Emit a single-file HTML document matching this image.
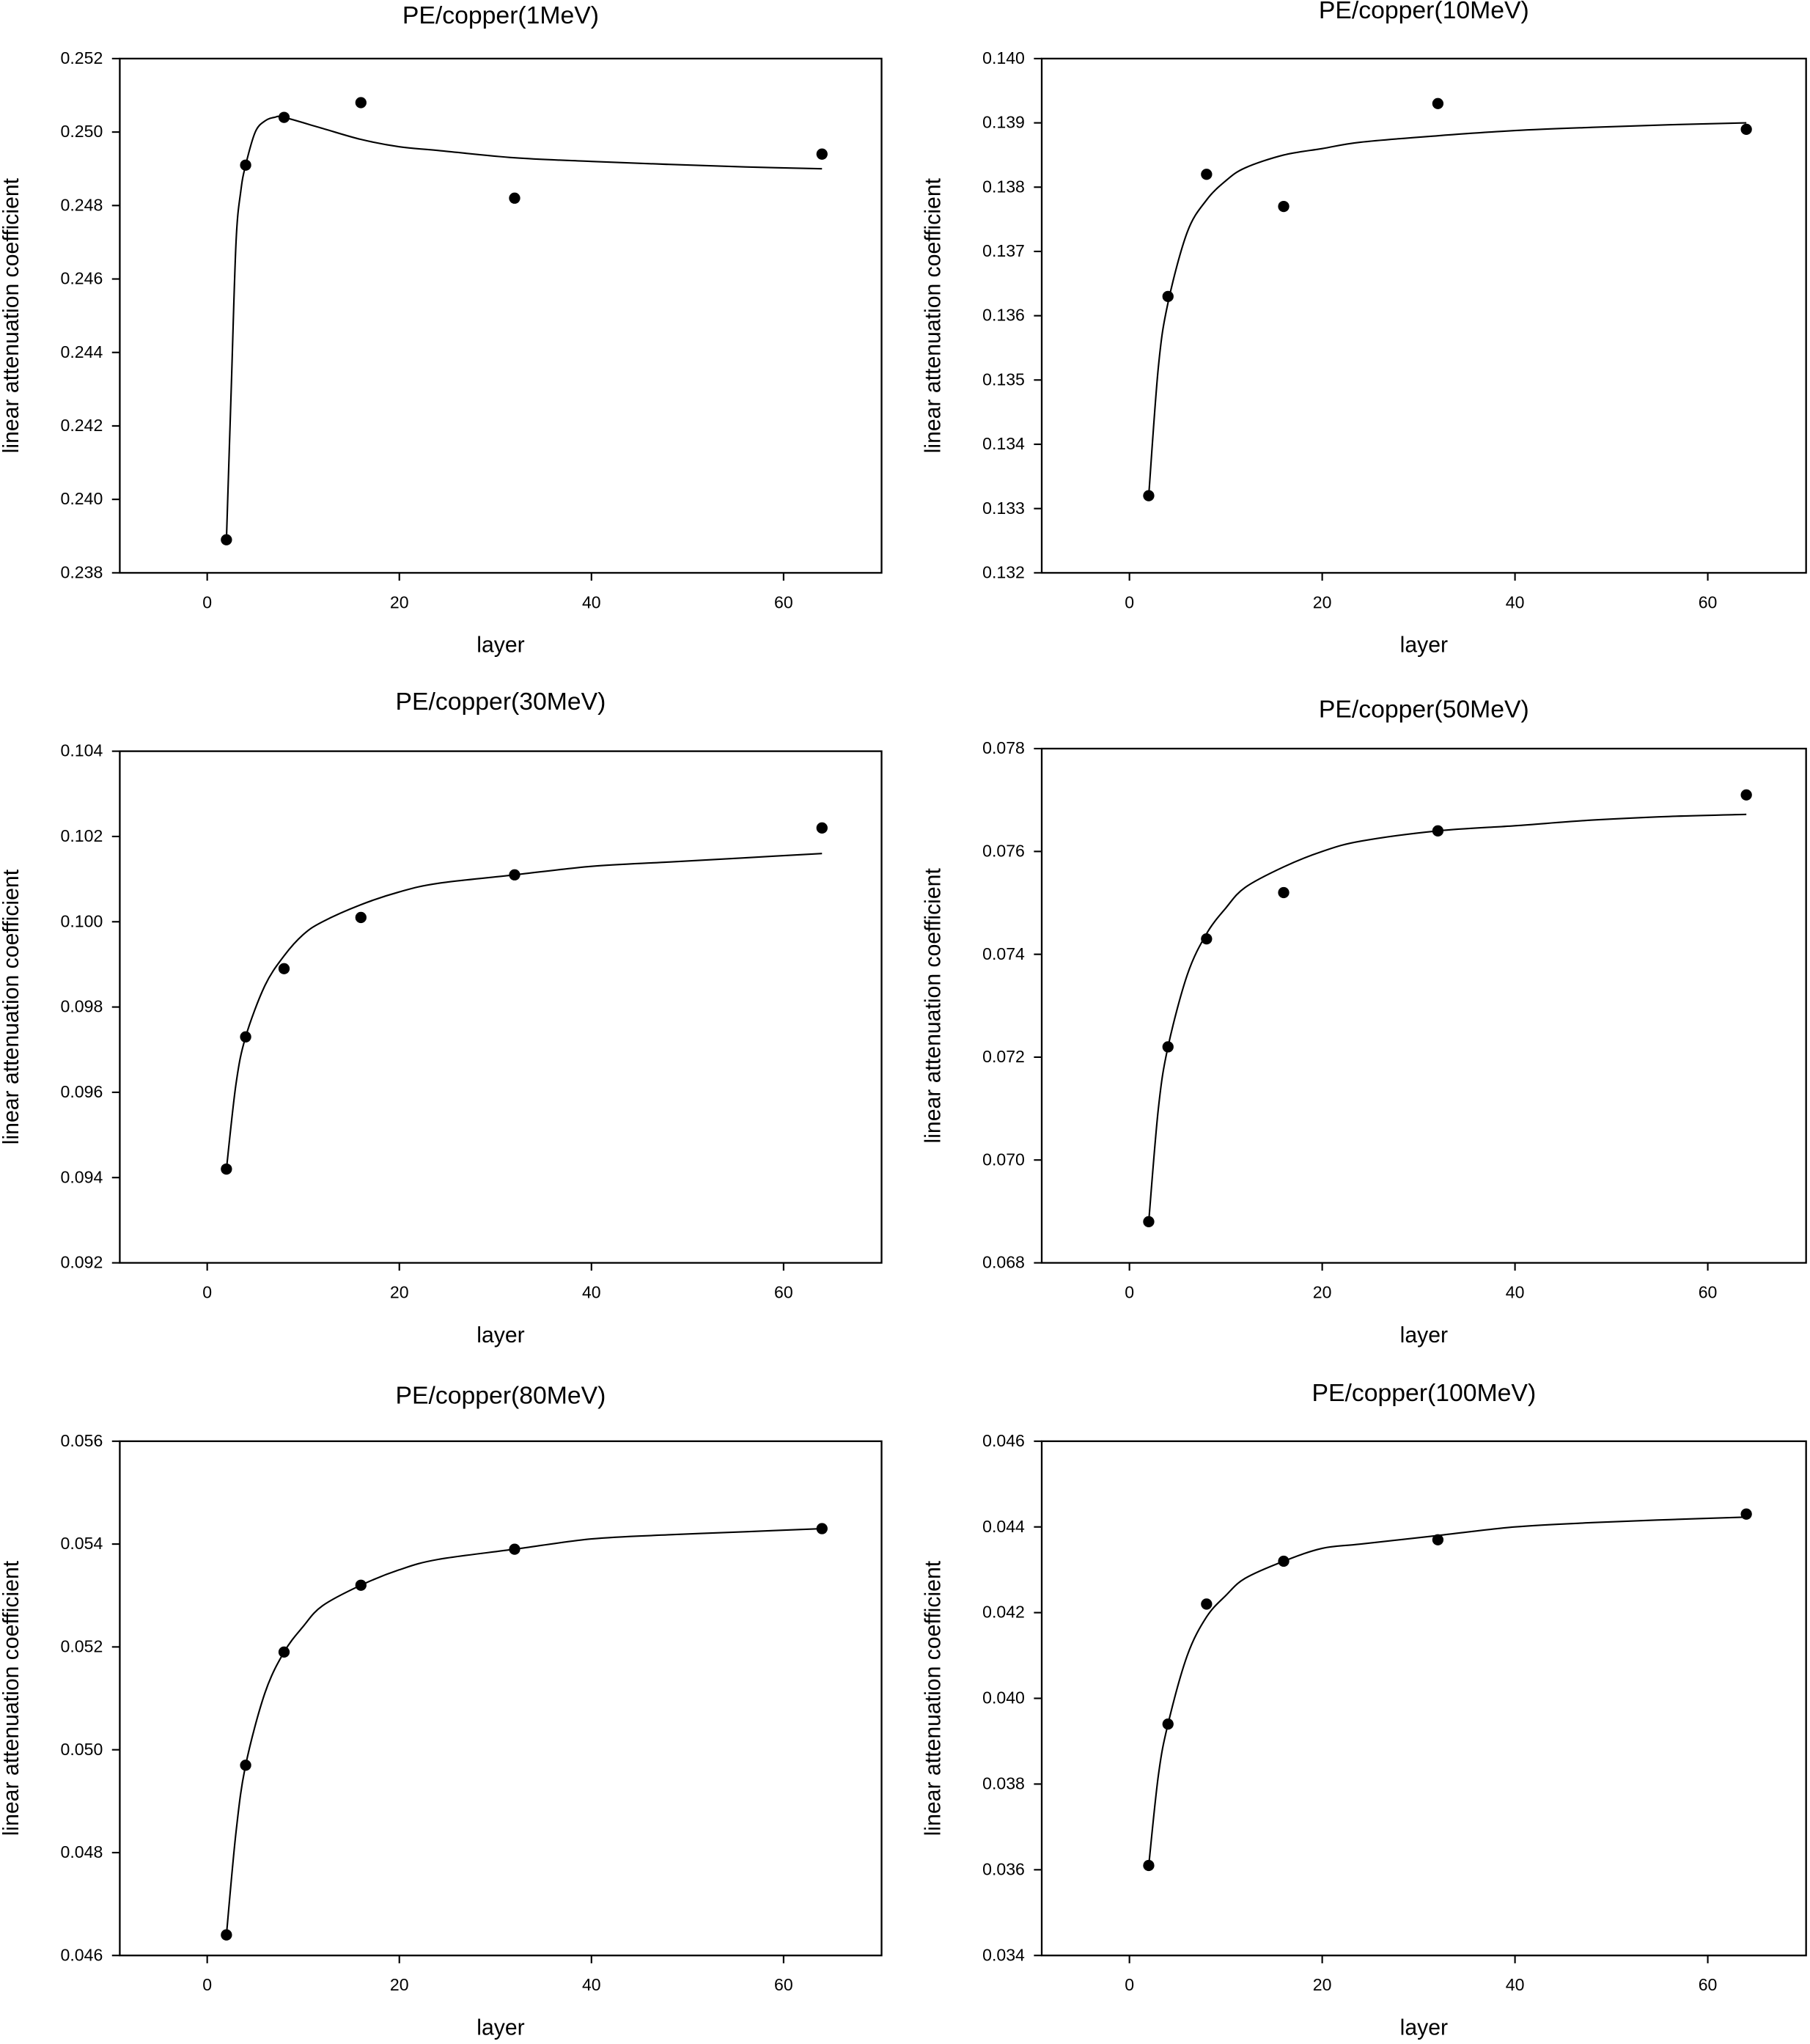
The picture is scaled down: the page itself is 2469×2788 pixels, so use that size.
<!DOCTYPE html>
<html><head><meta charset="utf-8"><style>html,body{margin:0;padding:0;background:#fff}svg{display:block}</style></head>
<body>
<svg id="fig" width="2469" height="2788" viewBox="0 0 1390 1570" preserveAspectRatio="none" xmlns="http://www.w3.org/2000/svg" font-family="Liberation Sans, sans-serif"></svg>
<script>
const layers = [2, 4, 8, 16, 32, 64];
const titles = ["PE/copper(1MeV)", "PE/copper(10MeV)", "PE/copper(30MeV)", "PE/copper(50MeV)", "PE/copper(80MeV)", "PE/copper(100MeV)"];
const pts1 = [0.2389, 0.2491, 0.2504, 0.2508, 0.2482, 0.2494];
const pts10 = [0.1332, 0.1363, 0.1382, 0.1377, 0.1393, 0.1389];
const pts30 = [0.0942, 0.0973, 0.0989, 0.1001, 0.1011, 0.1022];
const pts50 = [0.0688, 0.0722, 0.0743, 0.0752, 0.0764, 0.0771];
const pts80 = [0.0464, 0.0497, 0.0519, 0.0532, 0.0539, 0.0543];
const pts100 = [0.0361, 0.0394, 0.0422, 0.0432, 0.0437, 0.0443];
const fitX1 = [2, 2.5, 3, 3.5, 4, 5, 6, 7, 8, 12, 16, 20, 24, 32, 40, 48, 56, 64];
const fit1 = [0.2389, 0.2430, 0.2470, 0.2484, 0.2491, 0.2500, 0.2503, 0.2504, 0.2504, 0.2501, 0.2498, 0.2496, 0.2495, 0.2493, 0.2492, 0.24912, 0.24905, 0.2490];
const fitX = [2, 3, 4, 6, 8, 10, 12, 16, 20, 24, 32, 40, 48, 56, 64];
const fit10 = [0.1332, 0.1352, 0.1362, 0.1373, 0.1378, 0.1381, 0.1383, 0.1385, 0.1386, 0.1387, 0.1388, 0.13888, 0.13893, 0.13897, 0.1390];
const fit30 = [0.0942, 0.0962, 0.0973, 0.0985, 0.0992, 0.0997, 0.1000, 0.1004, 0.1007, 0.1009, 0.1011, 0.1013, 0.1014, 0.1015, 0.1016];
const fit50 = [0.0688, 0.0710, 0.0722, 0.0736, 0.0744, 0.0749, 0.0753, 0.0757, 0.0760, 0.0762, 0.0764, 0.0765, 0.07661, 0.07668, 0.07672];
const fit80 = [0.0464, 0.0484, 0.0497, 0.0511, 0.0519, 0.0524, 0.0528, 0.0532, 0.0535, 0.0537, 0.0539, 0.0541, 0.05418, 0.05424, 0.0543];
const fit100 = [0.0361, 0.0382, 0.0394, 0.0410, 0.0419, 0.0424, 0.0428, 0.0432, 0.0435, 0.0436, 0.0438, 0.0440, 0.04410, 0.04417, 0.04423];
const yTicks1 = ["0.238","0.240","0.242","0.244","0.246","0.248","0.250","0.252"];
const yTicks10 = ["0.132","0.133","0.134","0.135","0.136","0.137","0.138","0.139","0.140"];
const yTicks30 = ["0.092","0.094","0.096","0.098","0.100","0.102","0.104"];
const yTicks50 = ["0.068","0.070","0.072","0.074","0.076","0.078"];
const yTicks80 = ["0.046","0.048","0.050","0.052","0.054","0.056"];
const yTicks100 = ["0.034","0.036","0.038","0.040","0.042","0.044","0.046"];
const xTicks = [0, 20, 40, 60];

const panels = [
 {L:92,R:677,T:45,B:440,ty:12,pts:pts1,fx:fitX1,fy:fit1,yt:yTicks1,id:"1mev"},
 {L:800,R:1387,T:45,B:440,ty:8,pts:pts10,fx:fitX,fy:fit10,yt:yTicks10,id:"10mev"},
 {L:92,R:677,T:577,B:970,ty:539,pts:pts30,fx:fitX,fy:fit30,yt:yTicks30,id:"30mev"},
 {L:800,R:1387,T:575,B:970,ty:545,pts:pts50,fx:fitX,fy:fit50,yt:yTicks50,id:"50mev"},
 {L:92,R:677,T:1107,B:1502,ty:1072,pts:pts80,fx:fitX,fy:fit80,yt:yTicks80,id:"80mev"},
 {L:800,R:1387,T:1107,B:1502,ty:1070,pts:pts100,fx:fitX,fy:fit100,yt:yTicks100,id:"100mev"}
];
const NS="http://www.w3.org/2000/svg";
const svg=document.getElementById('fig');
function mk(tag,attrs,parent){const e=document.createElementNS(NS,tag);for(const k in attrs)e.setAttribute(k,attrs[k]);(parent||svg).appendChild(e);return e;}
function smooth(P){
  let d='M'+P[0][0].toFixed(2)+' '+P[0][1].toFixed(2);
  for(let i=0;i<P.length-1;i++){
    const p0=P[Math.max(0,i-1)],p1=P[i],p2=P[i+1],p3=P[Math.min(P.length-1,i+2)];
    const c1=[p1[0]+(p2[0]-p0[0])/6,p1[1]+(p2[1]-p0[1])/6];
    const c2=[p2[0]-(p3[0]-p1[0])/6,p2[1]-(p3[1]-p1[1])/6];
    d+=` C${c1[0].toFixed(2)} ${c1[1].toFixed(2)} ${c2[0].toFixed(2)} ${c2[1].toFixed(2)} ${p2[0].toFixed(2)} ${p2[1].toFixed(2)}`;
  }
  return d;
}
panels.forEach((p,i)=>{
  const g=mk('g',{});
  
  
  const x0=-9.1,x1=70.2;
  const ymin=parseFloat(p.yt[0]),ymax=parseFloat(p.yt[p.yt.length-1]);
  const sx=v=>p.L+(v-x0)/(x1-x0)*(p.R-p.L);
  const sy=v=>p.B-(v-ymin)/(ymax-ymin)*(p.B-p.T);
  const cx=(p.L+p.R)/2;
  const t=mk('text',{x:cx,y:p.ty+6,'text-anchor':'middle','font-size':19},g);t.textContent=titles[i];
  
  
  const fr=mk('rect',{x:p.L,y:p.T,width:p.R-p.L,height:p.B-p.T,fill:'none',stroke:'#000','stroke-width':1.3},g);
  
  
  p.yt.forEach(s=>{const y=sy(parseFloat(s));
    mk('line',{x1:p.L-6,x2:p.L,y1:y,y2:y,stroke:'#000','stroke-width':1.2},g);
    const tt=mk('text',{x:p.L-13,y:y+4,'text-anchor':'end','font-size':13},g);tt.textContent=s;
    
    });
  xTicks.forEach(v=>{const x=sx(v);
    mk('line',{x1:x,x2:x,y1:p.B,y2:p.B+6,stroke:'#000','stroke-width':1.2},g);
    const tt=mk('text',{x:x,y:p.B+27,'text-anchor':'middle','font-size':13},g);tt.textContent=v;
    
    });
  const xl=mk('text',{x:cx,y:p.B+61,'text-anchor':'middle','font-size':17},g);xl.textContent='layer';
  
  
  const ycx=p.L-78,ycy=(p.T+p.B)/2;
  const yl=mk('text',{x:ycx,y:ycy,'text-anchor':'middle','font-size':17,transform:`rotate(-90 ${ycx} ${ycy})`},g);yl.textContent='linear attenuation coefficient';
  
  
  const P=p.fx.map((v,k)=>[sx(v),sy(p.fy[k])]);
  const ln=mk('path',{d:smooth(P),fill:'none',stroke:'#000','stroke-width':1.2},g);
  
  
  p.pts.forEach((v,k)=>{const c=mk('circle',{cx:sx(layers[k]),cy:sy(v),r:4.3,fill:'#000'},g);
    
    });
});
</script>
</body></html>
